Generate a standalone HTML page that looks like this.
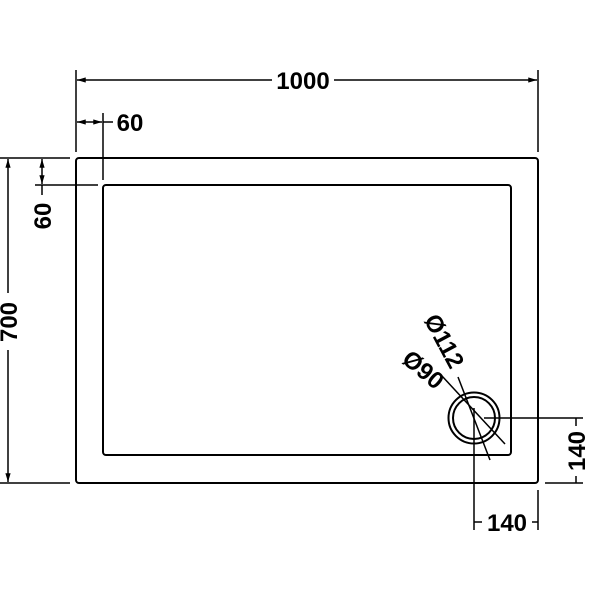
<!DOCTYPE html>
<html><head><style>body{margin:0;background:#fff}svg{display:block}</style></head>
<body>
<svg width="600" height="600" viewBox="0 0 600 600" xmlns="http://www.w3.org/2000/svg">
<defs>
<marker id="a" viewBox="0 0 10 6" refX="10" refY="3" markerWidth="6" markerHeight="3.5" orient="auto-start-reverse"><path d="M0,0 L10,3 L0,6 z" fill="#000"/></marker>
</defs>
<g fill="none" stroke="#000" stroke-width="2">
<rect x="76" y="158" width="462" height="325" rx="3"/>
<rect x="103" y="185" width="408" height="270" rx="3"/>
<circle cx="474" cy="418" r="25.5"/>
<circle cx="474" cy="418" r="21"/>
</g>
<g stroke="#000" stroke-width="1.5" fill="none">
<line x1="76" y1="70" x2="76" y2="152"/>
<line x1="538" y1="70" x2="538" y2="152"/>
<line x1="77" y1="80" x2="272" y2="80" marker-start="url(#a)"/>
<line x1="334" y1="80" x2="537" y2="80" marker-end="url(#a)"/>
<line x1="103" y1="113" x2="103" y2="180"/>
<line x1="77" y1="122" x2="102" y2="122" marker-start="url(#a)" marker-end="url(#a)"/>
<line x1="103" y1="122" x2="113" y2="122"/>
<line x1="0" y1="158" x2="70" y2="158"/>
<line x1="0" y1="483" x2="70" y2="483"/>
<line x1="8" y1="159" x2="8" y2="293" marker-start="url(#a)"/>
<line x1="8" y1="350" x2="8" y2="482" marker-end="url(#a)"/>
<line x1="35" y1="185" x2="98" y2="185"/>
<line x1="42" y1="159" x2="42" y2="184" marker-start="url(#a)" marker-end="url(#a)"/>
<line x1="42" y1="185" x2="42" y2="195"/>
<line x1="474" y1="408" x2="474" y2="530"/>
<line x1="538" y1="490" x2="538" y2="530"/>
<line x1="474" y1="522" x2="482" y2="522"/>
<line x1="532" y1="522" x2="538" y2="522"/>
<line x1="484" y1="418" x2="583" y2="418"/>
<line x1="545" y1="483" x2="583" y2="483"/>
<line x1="576" y1="418" x2="576" y2="426"/>
<line x1="576" y1="476" x2="576" y2="483"/>
<line x1="442" y1="376" x2="505" y2="444"/>
<line x1="458" y1="377" x2="490" y2="460"/>
</g>
<g font-family="Liberation Sans, sans-serif" font-weight="bold" font-size="24" fill="#000" text-anchor="middle">
<text x="303" y="89">1000</text>
<text x="130" y="131">60</text>
<text transform="translate(17,322) rotate(-90)">700</text>
<text transform="translate(51,216) rotate(-90)">60</text>
<text x="507" y="531">140</text>
<text transform="translate(585,451) rotate(-90)">140</text>
<text transform="translate(437,345) rotate(62)">Ø112</text>
<text transform="translate(418,376) rotate(40)">Ø90</text>
</g>
</svg>
</body></html>
